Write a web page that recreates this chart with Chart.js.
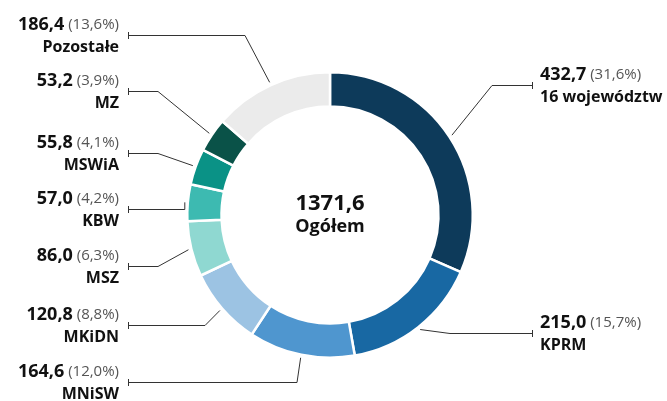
<!DOCTYPE html>
<html>
<head>
<meta charset="utf-8">
<script src="https://cdn.jsdelivr.net/npm/chart.js@4"></script>
<style>
  body { margin: 0; background: #fff; }
</style>
</head>
<body>
<canvas id="budget" width="667" height="401"></canvas>
<script>
const names = ['16 województw', 'KPRM', 'MNiSW', 'MKiDN', 'MSZ', 'KBW', 'MSWiA', 'MZ', 'Pozostałe'];
const values = [432.7, 215.0, 164.6, 120.8, 86.0, 57.0, 55.8, 53.2, 186.4];
const shares = ['31,6%', '15,7%', '12,0%', '8,8%', '6,3%', '4,2%', '4,1%', '3,9%', '13,6%'];
const totalLabel = '1371,6';
const colors = ['#0d3a5a', '#1868a3', '#4f96cf', '#9cc3e3', '#8fd8d1', '#3dbab1', '#0a9286', '#0a5248', '#ebebeb'];

// label layout: y of the leader line and x of its elbow (null = straight)
const lineY = [85, 333, 382, 325, 266, 209, 153, 91, 35];
const elbowX = [492, 450, 297, 205, 158, null, 158, 158, 245];

function fmt(v){
  return v.toFixed(1).replace('.', ',');
}

const calloutPlugin = {
  id: 'callouts',
  afterDraw(chart){
    const ctx = chart.ctx;
    const arcs = chart.getDatasetMeta(0).data;
    ctx.save();
    arcs.forEach((arc, i) => {
      const a = (arc.startAngle + arc.endAngle) / 2;
      const r = arc.outerRadius + 3;
      const sx = arc.x + Math.cos(a) * r;
      const sy = arc.y + Math.sin(a) * r;
      const right = sx > arc.x;
      const endX = right ? 532 : 128;
      const y = lineY[i];
      const ex = elbowX[i] === null ? sx : elbowX[i];

      ctx.strokeStyle = '#333';
      ctx.lineWidth = 1;
      ctx.beginPath();
      ctx.moveTo(sx, sy);
      ctx.lineTo(ex, y + 0.5);
      ctx.lineTo(endX, y + 0.5);
      ctx.stroke();
      ctx.beginPath();
      ctx.moveTo(endX + 0.5, y - 3);
      ctx.lineTo(endX + 0.5, y + 4);
      ctx.stroke();

      const valTxt = fmt(values[i]);
      const pctTxt = ' (' + shares[i] + ')';
      ctx.textBaseline = 'middle';
      ctx.font = 'bold 18px "Open Sans"';
      const vw = ctx.measureText(valTxt).width;
      ctx.font = '15px "Open Sans"';
      const pw = ctx.measureText(pctTxt).width;
      const tx = right ? 540 : 119 - vw - pw;

      ctx.textAlign = 'left';
      ctx.fillStyle = '#111';
      ctx.font = 'bold 18px "Open Sans"';
      ctx.fillText(valTxt, tx, y - 10);
      ctx.fillStyle = '#555';
      ctx.font = '15px "Open Sans"';
      ctx.fillText(pctTxt, tx + vw, y - 10);

      ctx.fillStyle = '#111';
      ctx.font = 'bold 16px "Open Sans"';
      ctx.textAlign = right ? 'left' : 'right';
      ctx.fillText(names[i], right ? 540 : 119, y + 12);
    });

    const c = arcs[0];
    ctx.textAlign = 'center';
    ctx.fillStyle = '#111';
    ctx.font = 'bold 22px "Open Sans"';
    ctx.fillText(totalLabel, c.x, c.y - 11);
    ctx.font = 'bold 18px "Open Sans"';
    ctx.fillText('Ogółem', c.x, c.y + 12);
    ctx.restore();
  }
};

const data = {
  labels: names,
  datasets: [{
    data: values,
    backgroundColor: colors,
    borderColor: '#fff',
    borderWidth: 2.5,
    hoverOffset: 0
  }]
};

const config = {
  type: 'doughnut',
  data: data,
  options: {
    responsive: false,
    animation: false,
    cutout: '76%',
    layout: {
      padding: { left: 186, right: 193, top: 71, bottom: 42 }
    },
    plugins: {
      legend: { display: false },
      tooltip: { enabled: false }
    }
  },
  plugins: [calloutPlugin]
};

var myChart = new Chart(document.getElementById('budget'), config);
</script>
</body>
</html>
